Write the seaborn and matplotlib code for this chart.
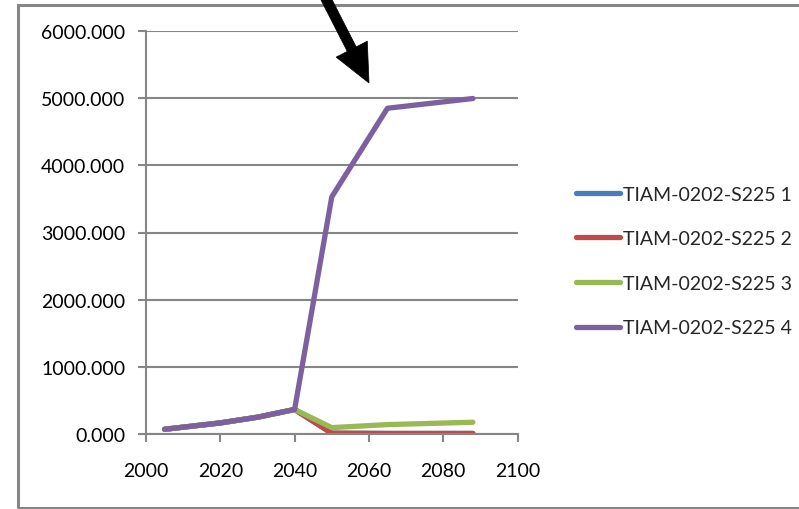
import numpy as np
import pandas as pd
import matplotlib
matplotlib.use("Agg")
import matplotlib.pyplot as plt
from matplotlib.patches import Polygon, Rectangle
from matplotlib.ticker import FormatStrFormatter, MultipleLocator
import seaborn as sns

years = [2005, 2020, 2030, 2040, 2050, 2065, 2088]
series_names = ["TIAM-0202-S225 1", "TIAM-0202-S225 2", "TIAM-0202-S225 3", "TIAM-0202-S225 4"]
s225_1 = [70, 165, 250, 365, 12, 8, 8]
s225_2 = [70, 165, 250, 365, 12, 8, 8]
s225_3 = [70, 165, 250, 365, 95, 140, 175]
s225_4 = [70, 165, 250, 365, 3530, 4850, 4995]
colors = ["#4A7EBB", "#BE4B48", "#98B954", "#7D60A0"]

frames = []
for name, vals in zip(series_names, [s225_1, s225_2, s225_3, s225_4]):
    frames.append(pd.DataFrame({"year": years, "value": vals, "series": name}))
df = pd.concat(frames, ignore_index=True)

sns.set_theme(style="white")
plt.rcParams["font.family"] = ["Lato", "DejaVu Sans"]

W, H = 799, 510
fs = 14
fig = plt.figure(figsize=(W / 100, H / 100), dpi=100)
ax = fig.add_axes([146 / W, 1 - 435 / H, (517.5 - 146) / W, (435 - 32) / H])

sns.lineplot(data=df, x="year", y="value", hue="series", palette=colors,
             linewidth=3.8, estimator=None, sort=False, ax=ax,
             solid_capstyle="round", solid_joinstyle="round")

grid_c = "#868686"
ax.set_xlim(2000, 2100)
ax.set_ylim(0, 6000)
ax.xaxis.set_major_locator(MultipleLocator(20))
ax.yaxis.set_major_locator(MultipleLocator(1000))
ax.yaxis.set_major_formatter(FormatStrFormatter("%.3f"))
ax.yaxis.grid(True, color=grid_c, linewidth=1.5)
ax.xaxis.grid(False)
ax.set_axisbelow(True)
for side in ["top", "right"]:
    ax.spines[side].set_visible(False)
for side in ["left", "bottom"]:
    ax.spines[side].set_color(grid_c)
    ax.spines[side].set_linewidth(1.5)
ax.tick_params(axis="both", which="major", direction="out", length=6, width=1.5,
               color=grid_c, labelsize=fs, labelcolor="black",
               left=True, bottom=True)
ax.tick_params(axis="y", pad=9)
ax.tick_params(axis="x", pad=14)
ax.set_xlabel("")
ax.set_ylabel("")

leg = ax.legend(loc="center left", bbox_to_anchor=(558 / W, 1 - 262 / H),
                bbox_transform=fig.transFigure, frameon=False, fontsize=fs,
                handlelength=2.3, handletextpad=0.15, labelspacing=1.42)
for line in leg.get_lines():
    line.set_linewidth(3.8)

# outer chart frame
fig.patches.append(Rectangle((17.5 / W, 1 - 508.5 / H), 1.0, (508.5 - 6) / H,
                             transform=fig.transFigure, fill=False,
                             edgecolor=grid_c, linewidth=2.2, clip_on=False))

# pointer arrow
def px(x, y):
    return (x / W, 1 - y / H)

tip = np.array([369.0, 84.0])
start = np.array([321.0, -10.0])
d = tip - start
d = d / np.hypot(*d)
n = np.array([-d[1], d[0]])
head_len, head_w, shaft_w = 38.0, 17.5, 5.0
base = tip - d * head_len
pts = [start + n * shaft_w, base + n * shaft_w, base + n * head_w, tip,
       base - n * head_w, base - n * shaft_w, start - n * shaft_w]
fig.patches.append(Polygon([px(*p) for p in pts], closed=True,
                           transform=fig.transFigure, facecolor="black",
                           edgecolor="black", linewidth=0.5))

fig.savefig("out.png", dpi=100)
